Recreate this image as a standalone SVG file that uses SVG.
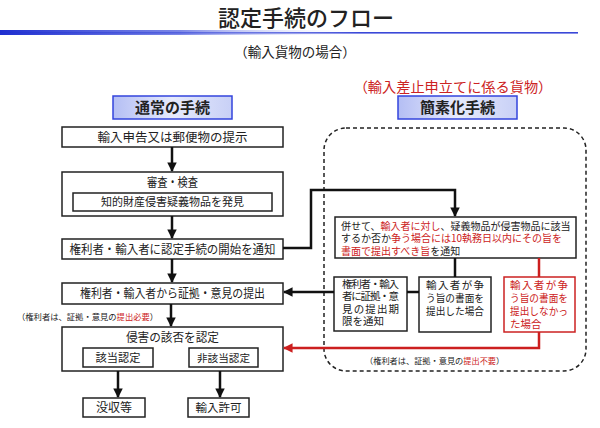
<svg xmlns="http://www.w3.org/2000/svg" width="600" height="428" viewBox="0 0 600 428">
<defs>
<style>
text{font-family:"Noto Sans CJK JP","Noto Sans",sans-serif;fill:#222;}
.c{text-anchor:middle;}
.r{fill:#cc2222;}
.box{fill:#fff;stroke:#222;stroke-width:1.5;}
.rbox{fill:#fff;stroke:#cc2222;stroke-width:1.5;}
.hdr{fill:url(#hg);stroke:#3344dd;stroke-width:1.5;}
.ln{fill:none;stroke:#111;stroke-width:2.5;}
.rln{fill:none;stroke:#cc1f1f;stroke-width:2.5;}
</style>
<linearGradient id="hg" x1="0" y1="0" x2="1" y2="0">
<stop offset="0" stop-color="#b4bef4"/>
<stop offset="0.5" stop-color="#e6eafc"/>
<stop offset="1" stop-color="#c8d0f6"/>
</linearGradient>
<linearGradient id="bl" x1="0" y1="0" x2="1" y2="0">
<stop offset="0" stop-color="#1f2fd0" stop-opacity="1"/>
<stop offset="0.5" stop-color="#5a68e0" stop-opacity="0.8"/>
<stop offset="1" stop-color="#ffffff" stop-opacity="0"/>
</linearGradient>
<marker id="ah" viewBox="0 0 10 10" refX="9" refY="5" markerWidth="3.8" markerHeight="3.8" orient="auto" markerUnits="strokeWidth">
<path d="M0,0 L10,5 L0,10 z" fill="#111"/>
</marker>
<marker id="rah" viewBox="0 0 10 10" refX="9" refY="5" markerWidth="3.8" markerHeight="3.8" orient="auto" markerUnits="strokeWidth">
<path d="M0,0 L10,5 L0,10 z" fill="#cc1f1f"/>
</marker>
</defs>
<rect width="600" height="428" fill="#fff"/>

<g id="title">
<text x="306" y="26" class="c" font-size="22" font-weight="500">認定手続のフロー</text>
<rect x="0" y="32" width="578" height="1.6" fill="#3a48d8"/>
<rect x="0" y="30" width="360" height="5" fill="url(#bl)"/>
<text x="295" y="57" class="c" font-size="13.5">（輸入貨物の場合）</text>
<text x="453" y="92" class="c r" font-size="14.2">（輸入差止申立てに係る貨物）</text>
</g>

<g id="hdr-normal">
<rect class="hdr" x="113" y="96" width="119" height="23"/>
<text x="172.5" y="113" class="c" font-size="15" font-weight="bold">通常の手続</text>
</g>
<g id="hdr-simple">
<rect class="hdr" x="398" y="96" width="119" height="23"/>
<text x="457.5" y="113" class="c" font-size="15" font-weight="bold">簡素化手続</text>
</g>

<g id="n1">
<rect class="box" x="62" y="127" width="221" height="20"/>
<text x="172.5" y="141.5" class="c" font-size="12.5">輸入申告又は郵便物の提示</text>
</g>
<g id="n2">
<rect class="box" x="62" y="172" width="221" height="44"/>
<text x="172.5" y="187" class="c" font-size="12.5" textLength="51" lengthAdjust="spacingAndGlyphs">審査・検査</text>
<rect class="box" x="73" y="193" width="199" height="18" stroke-width="1.2"/>
<text x="172.5" y="206" class="c" font-size="11">知的財産侵害疑義物品を発見</text>
</g>
<g id="n3">
<rect class="box" x="62" y="239" width="221" height="20"/>
<text x="172.5" y="253.5" class="c" font-size="12" textLength="206" lengthAdjust="spacingAndGlyphs">権利者・輸入者に認定手続の開始を通知</text>
</g>
<g id="n4">
<rect class="box" x="62" y="283" width="221" height="21"/>
<text x="172.5" y="298" class="c" font-size="12.5" textLength="185" lengthAdjust="spacingAndGlyphs">権利者・輸入者から証拠・意見の提出</text>
</g>
<g id="note-left">
<text x="17" y="320" font-size="8.3">（権利者は、証拠・意見の<tspan class="r">提出必要</tspan>）</text>
</g>
<g id="n5">
<rect class="box" x="62" y="327" width="221" height="44"/>
<text x="172.5" y="342" class="c" font-size="12" textLength="93" lengthAdjust="spacingAndGlyphs">侵害の該否を認定</text>
<rect class="box" x="83" y="348" width="70" height="19" stroke-width="1.2"/>
<text x="118" y="362" class="c" font-size="11.2">該当認定</text>
<rect class="box" x="189" y="348" width="69" height="19" stroke-width="1.2"/>
<text x="223.5" y="362" class="c" font-size="10.6">非該当認定</text>
</g>
<g id="n6">
<rect class="box" x="83" y="398" width="62" height="19"/>
<text x="114" y="412" class="c" font-size="12">没収等</text>
</g>
<g id="n7">
<rect class="box" x="188" y="398" width="61" height="19"/>
<text x="218.5" y="412" class="c" font-size="11.5">輸入許可</text>
</g>

<g id="simple-frame">
<rect x="324" y="128" width="262" height="243" rx="22" fill="none" stroke="#222" stroke-width="1.5" stroke-dasharray="4,3"/>
</g>

<g id="s1">
<rect class="box" x="335" y="217" width="241" height="41"/>
<text font-size="10"><tspan x="341" y="229.5">併せて、<tspan class="r">輸入者に対し</tspan>、疑義物品が侵害物品に該当</tspan><tspan x="341" y="242">するか否か<tspan class="r">争う場合には10執務日以内にその旨を</tspan></tspan><tspan x="341" y="254.5"><tspan class="r">書面で提出すべき旨</tspan>を通知</tspan></text>
</g>
<g id="s2">
<rect class="box" x="334" y="277" width="73" height="54"/>
<text x="342" y="287.5" font-size="10.5" textLength="57" lengthAdjust="spacing">権利者・輸入</text>
<text x="342" y="300" font-size="10.5" textLength="57" lengthAdjust="spacing">者に証拠・意</text>
<text x="342" y="312.5" font-size="10.5" textLength="57" lengthAdjust="spacing">見の提出期</text>
<text x="342" y="325" font-size="10.5">限を通知</text>
</g>
<g id="s3">
<rect class="box" x="419" y="277" width="72" height="55"/>
<text x="426" y="289" font-size="10.5" textLength="58" lengthAdjust="spacing">輸入者が争</text>
<text x="426" y="302" font-size="10.5" textLength="58" lengthAdjust="spacingAndGlyphs">う旨の書面を</text>
<text x="426" y="314.5" font-size="10.5" textLength="58" lengthAdjust="spacingAndGlyphs">提出した場合</text>
</g>
<g id="s4">
<rect class="rbox" x="504" y="277" width="71" height="55"/>
<text x="510" y="289" class="r" font-size="10.5" textLength="58" lengthAdjust="spacing">輸入者が争</text>
<text x="510" y="302" class="r" font-size="10.5" textLength="58" lengthAdjust="spacingAndGlyphs">う旨の書面を</text>
<text x="510" y="315" class="r" font-size="10.5" textLength="58" lengthAdjust="spacingAndGlyphs">提出しなかっ</text>
<text x="510" y="327.5" class="r" font-size="10.5">た場合</text>
</g>
<g id="note-right">
<text x="365" y="364" font-size="8.2">（権利者は、証拠・意見の<tspan class="r">提出不要</tspan>）</text>
</g>

<g id="connectors">
<line class="ln" x1="172" y1="147" x2="172" y2="171" marker-end="url(#ah)"/>
<line class="ln" x1="172" y1="216" x2="172" y2="238" marker-end="url(#ah)"/>
<line class="ln" x1="172" y1="259" x2="172" y2="282" marker-end="url(#ah)"/>
<line class="ln" x1="171" y1="304" x2="171" y2="326" marker-end="url(#ah)"/>
<line class="ln" x1="118" y1="371" x2="118" y2="397" marker-end="url(#ah)"/>
<line class="ln" x1="220" y1="371" x2="220" y2="397" marker-end="url(#ah)"/>
<polyline class="ln" points="283,248 311,248 311,190 455,190 455,216" marker-end="url(#ah)"/>
<line class="ln" x1="455" y1="258" x2="455" y2="277"/>
<line class="ln" x1="419" y1="292" x2="407" y2="292"/>
<line class="ln" x1="334" y1="292" x2="284" y2="292" marker-end="url(#ah)"/>
<line class="rln" x1="539" y1="258" x2="539" y2="277"/>
<polyline class="rln" points="539,332 539,348 284,348" marker-end="url(#rah)"/>
</g>
</svg>
